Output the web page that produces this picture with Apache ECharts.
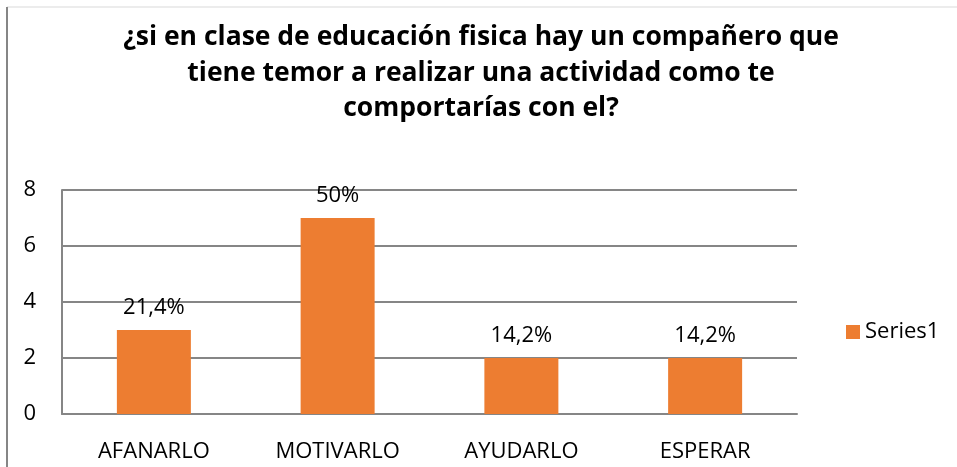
<!DOCTYPE html>
<html>
<head>
<meta charset="utf-8">
<script src="https://cdn.jsdelivr.net/npm/echarts@6/dist/echarts.min.js"></script>
<style>
  html, body { margin: 0; padding: 0; background: #fff; }
  #chart { width: 957px; height: 467px; }
</style>
</head>
<body>
<div id="chart"></div>
<script>
// Survey answers: how would you behave with a classmate afraid of an activity?
const categories = ['AFANARLO', 'MOTIVARLO', 'AYUDARLO', 'ESPERAR'];
const counts = [3, 7, 2, 2];
const percentLabels = ['21,4%', '50%', '14,2%', '14,2%'];
const yTicks = { min: 0, max: 8, interval: 2 };
const seriesName = 'Series1';
const titleText = '¿si en clase de educación fisica hay un compañero que\ntiene temor a realizar una actividad como te\ncomportarías con el?';

const FONT = '"Open Sans", Lato, sans-serif';
const chart = echarts.init(document.getElementById('chart'));

chart.setOption({
  backgroundColor: '#fff',
  animation: false,
  title: {
    text: titleText,
    left: 476,
    top: 15,
    textAlign: 'center',
    textStyle: {
      fontFamily: FONT,
      fontWeight: 'bold',
      fontSize: 26.5,
      lineHeight: 35.5,
      color: '#000'
    }
  },
  legend: {
    left: 841,
    top: 316,
    itemWidth: 14,
    itemHeight: 14,
    itemGap: 8,
    icon: 'rect',
    textStyle: { fontFamily: FONT, fontSize: 22, color: '#000' },
    data: [seriesName]
  },
  grid: { left: 62, right: 160, top: 190, bottom: 53 },
  xAxis: {
    type: 'category',
    data: categories,
    axisLine: { show: true, lineStyle: { color: '#868686', width: 2 } },
    axisTick: { show: false },
    axisLabel: { fontFamily: FONT, fontSize: 22, color: '#000', margin: 27 }
  },
  yAxis: {
    type: 'value',
    min: yTicks.min,
    max: yTicks.max,
    interval: yTicks.interval,
    axisLine: { show: true, lineStyle: { color: '#868686', width: 2 } },
    axisTick: { show: false },
    splitLine: { lineStyle: { color: '#868686', width: 2 } },
    axisLabel: { fontFamily: FONT, fontSize: 22, color: '#000', margin: 26, padding: [7, 0, 0, 0] }
  },
  series: [{
    name: seriesName,
    type: 'bar',
    data: counts,
    barWidth: 74,
    itemStyle: { color: '#ED7D31' },
    label: {
      show: true,
      position: 'top',
      distance: 11,
      fontFamily: FONT,
      fontSize: 22,
      color: '#000',
      formatter: p => percentLabels[p.dataIndex]
    }
  }],
  graphic: [
    { type: 'line', shape: { x1: 7, y1: 7, x2: 957, y2: 7 }, style: { stroke: '#d9d9d9', lineWidth: 1 } },
    { type: 'line', shape: { x1: 7, y1: 7, x2: 7, y2: 467 }, style: { stroke: '#868686', lineWidth: 2 } }
  ]
});
</script>
</body>
</html>
